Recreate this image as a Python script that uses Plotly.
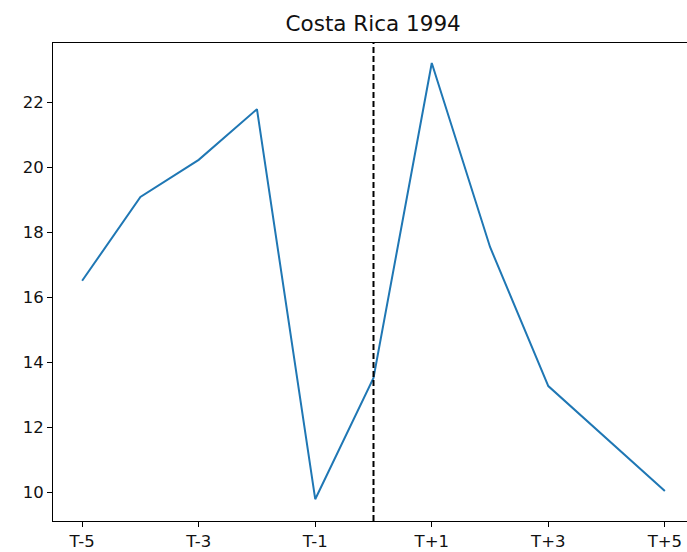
import plotly.graph_objects as go

periods = ["T-5", "T-4", "T-3", "T-2", "T-1", "T0", "T+1", "T+2", "T+3", "T+4", "T+5"]
values = [16.5, 19.08, 20.22, 21.78, 9.78, 13.51, 23.2, 17.54, 13.26, 11.65, 10.03]
shown_ticks = ["T-5", "T-3", "T-1", "T+1", "T+3", "T+5"]
y_ticks = [10, 12, 14, 16, 18, 20, 22]
event_period = "T0"
title = "Costa Rica 1994"

fig = go.Figure()
fig.add_trace(go.Scatter(x=periods, y=values, mode="lines",
                         line=dict(color="#1f77b4", width=2), showlegend=False))

# event marker at the reform year
event_idx = periods.index(event_period)
fig.add_shape(type="line", xref="x", yref="paper", x0=event_idx, x1=event_idx, y0=0, y1=1,
              line=dict(color="black", width=2, dash="6px,3px"))

fig.update_layout(
    width=687, height=552,
    margin=dict(l=53, r=0, t=43, b=31),
    paper_bgcolor="white", plot_bgcolor="white",
    font=dict(family="DejaVu Sans", size=16.5, color="#111111"),
    title=dict(text=title, x=0.505, xref="paper", xanchor="center",
               y=1 - 23 / 552, yref="container", yanchor="middle",
               font=dict(size=21.5, color="#111111")),
)
fig.update_xaxes(
    type="category", categoryorder="array", categoryarray=periods,
    range=[-0.5, 10.38],
    tickmode="array", tickvals=shown_ticks, ticktext=shown_ticks,
    showgrid=False, zeroline=False,
    showline=True, linecolor="black", linewidth=1, mirror=True,
    ticks="outside", ticklen=5, tickcolor="black", tickwidth=1,
)
fig.update_yaxes(
    range=[9.11, 23.815],
    tickmode="array", tickvals=y_ticks,
    showgrid=False, zeroline=False,
    showline=True, linecolor="black", linewidth=1,
    ticks="outside", ticklen=5, tickcolor="black", tickwidth=1,
)

# drop the default page margin so the figure fills the window exactly
fig.write_html("out.html", config={"displayModeBar": False},
               post_script="document.body.style.margin='0';document.body.style.overflow='hidden';")
